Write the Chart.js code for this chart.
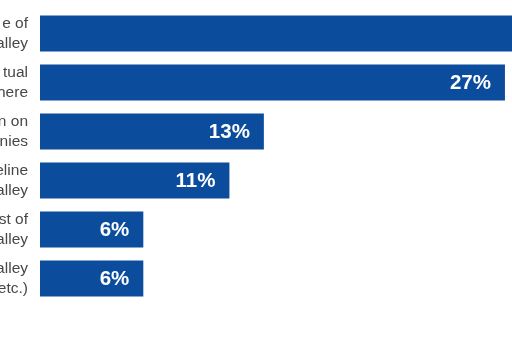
<!DOCTYPE html>
<html>
<head>
<meta charset="utf-8">
<script src="https://cdn.jsdelivr.net/npm/chart.js@4/dist/chart.umd.min.js"></script>
<style>
  html, body { margin: 0; padding: 0; background: #ffffff; }
  #wrap { position: relative; width: 512px; height: 341px; }
</style>
</head>
<body>
<div id="wrap"><canvas id="chart" width="512" height="341"></canvas></div>
<script>
// Category labels (two lines each), shares in percent, and label formatting
const categories = [
  ["e of", "alley"],
  ["tual", "here"],
  ["n on", "nies"],
  ["eline", "alley"],
  ["st of", "alley"],
  ["alley", "etc.)"]
];
const shares = [33, 27, 13, 11, 6, 6];
const valueSuffix = "%";

const BAR_COLOR = "#0b4c9c";
const LABEL_COLOR = "#474747";

// Writes each bar's value inside its right end
const valueLabels = {
  id: "valueLabels",
  afterDatasetsDraw(chart) {
    const { ctx, chartArea } = chart;
    const meta = chart.getDatasetMeta(0);
    ctx.save();
    ctx.beginPath();
    ctx.rect(chartArea.left, chartArea.top, chartArea.right - chartArea.left, chartArea.bottom - chartArea.top);
    ctx.clip();
    ctx.fillStyle = "#ffffff";
    ctx.font = "bold 20.5px 'Liberation Sans', Arial, sans-serif";
    ctx.textAlign = "right";
    ctx.textBaseline = "middle";
    meta.data.forEach((bar, i) => {
      ctx.fillText(shares[i] + valueSuffix, bar.x - 14, bar.y + 1);
    });
    ctx.restore();
  }
};

new Chart(document.getElementById("chart"), {
  type: "bar",
  data: {
    labels: categories,
    datasets: [{
      data: shares,
      backgroundColor: BAR_COLOR,
      borderWidth: 0,
      barPercentage: 0.736,
      categoryPercentage: 1
    }]
  },
  options: {
    indexAxis: "y",
    responsive: false,
    animation: false,
    layout: { padding: { top: 9, bottom: 38, left: 0, right: 0 } },
    plugins: {
      legend: { display: false },
      tooltip: { enabled: false }
    },
    scales: {
      x: {
        display: false,
        min: 0,
        max: 27.41
      },
      y: {
        grid: { display: false, drawTicks: false },
        border: { display: false },
        ticks: {
          color: LABEL_COLOR,
          padding: 12,
          font: { family: "'Liberation Sans', Arial, sans-serif", size: 15.5, lineHeight: 1.26 }
        },
        afterFit(scale) {
          scale.width = 40;
          scale.paddingTop = 0;
          scale.paddingBottom = 0;
        }
      }
    }
  },
  plugins: [valueLabels]
});
</script>
</body>
</html>
